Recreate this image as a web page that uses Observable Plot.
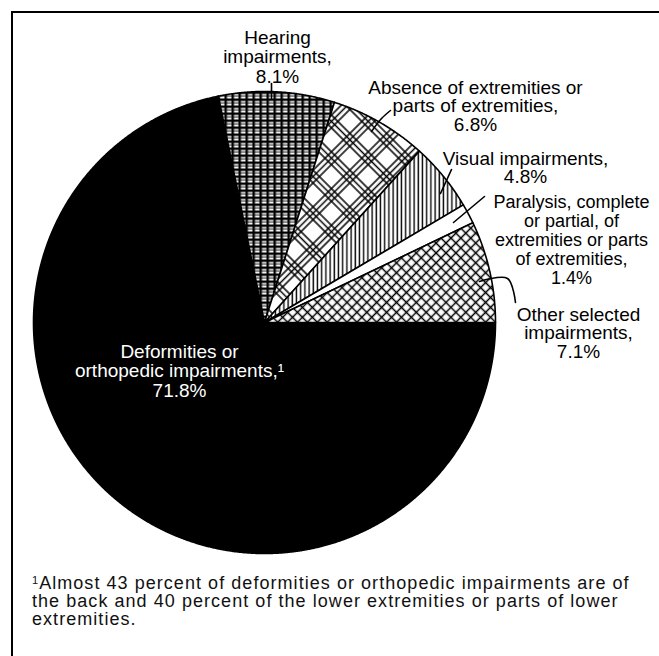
<!DOCTYPE html>
<html><head><meta charset="utf-8">
<script src="https://cdn.jsdelivr.net/npm/d3@7"></script>
<script src="https://cdn.jsdelivr.net/npm/@observablehq/plot@0.6"></script>
<style>
body{margin:0;background:#fff;font-family:"Liberation Sans",Arial,Helvetica,sans-serif;}
#wrap{position:relative;width:659px;height:656px;overflow:hidden;background:#fff;}
#frame{position:absolute;left:11px;top:11px;width:700px;height:700px;border-left:2px solid #000;border-top:2px solid #000;}
#chart{position:absolute;left:0;top:0;}
#note{position:absolute;left:32px;top:574px;width:627px;font-size:18px;line-height:18px;letter-spacing:1.05px;color:#111;white-space:nowrap;}
#note sup{font-size:11px;vertical-align:top;position:relative;top:-3px;letter-spacing:0;margin-right:1px;}
</style></head><body>
<div id="wrap"><div id="frame"></div><div id="chart"></div><div id="note"></div></div>
<script>
// ---- data ----
const categories = [
  "Deformities or orthopedic impairments",
  "Hearing impairments",
  "Absence of extremities or parts of extremities",
  "Visual impairments",
  "Paralysis, complete or partial, of extremities or parts of extremities",
  "Other selected impairments"
];
const percents = [71.8, 8.1, 6.8, 4.8, 1.4, 7.1];
const labels = [
  "Deformities or\northopedic impairments,¹\n71.8%",
  "Hearing\nimpairments,\n8.1%",
  "Absence of extremities or\nparts of extremities,\n6.8%",
  "Visual impairments,\n4.8%",
  "Paralysis, complete\nor partial, of\nextremities or parts\nof extremities,\n1.4%",
  "Other selected\nimpairments,\n7.1%"
];
const footnoteLines = [
  "Almost 43 percent of deformities or orthopedic impairments are of",
  "the back and 40 percent of the lower extremities or parts of lower",
  "extremities."
];

// ---- layout / style ----
const W = 659, H = 656, CX = 264, CY = 322, R = 231;
const fills = ["#000", "url(#pHear)", "url(#pAbs)", "url(#pVis)", "#fff", "url(#pOth)"];
const P = (px, py) => [px - CX, CY - py];
const labelLayout = [ // [centerX, capTop, fontSize, lineHeight(em), color]
  [179, 343.5, 19, 1.03, "#fff"],
  [277, 29.5, 19, 1.03, "#000"],
  [475, 79.5, 19, 1.0, "#000"],
  [525, 150.5, 19, 1.0, "#000"],
  [571, 194.5, 18, 1.05, "#000"],
  [578, 306.5, 19, 1.0, "#000"]
];
const leaders = [
  [[271, 83], [271, 98]],
  [[390, 110], [381, 118], [371, 131]],
  [[451, 169], [446, 180], [440, 193]],
  [[484, 196], [453, 222]],
  [[479, 281], [507, 278], [515, 302]]
];

const arcs = d3.pie().sort(null).startAngle(Math.PI / 2).endAngle(Math.PI / 2 + 2 * Math.PI)(percents);
const slices = arcs.map((a, i) => {
  const pts = [[0, 0]];
  const n = Math.max(2, Math.ceil((a.endAngle - a.startAngle) / 0.004));
  for (let k = 0; k <= n; k++) {
    const t = a.startAngle + (a.endAngle - a.startAngle) * k / n;
    pts.push([R * Math.sin(t), R * Math.cos(t)]);
  }
  pts.push([0, 0]);
  return {i, name: categories[i], pts};
});

const marks = [];
slices.forEach(s => marks.push(Plot.line(s.pts, {
  x: d => d[0], y: d => d[1], fill: fills[s.i], stroke: "#000", strokeWidth: 1.6, strokeLinejoin: "round"
})));
leaders.forEach(l => marks.push(Plot.line(l.map(p => P(p[0], p[1])), {
  x: d => d[0], y: d => d[1], stroke: "#000", strokeWidth: 1.6, curve: "catmull-rom"
})));
labels.forEach((t, i) => {
  const [lx, ly, fs, lh, col] = labelLayout[i];
  const [x, y] = P(lx, ly);
  marks.push(Plot.text([t], {
    x: () => x, y: () => y, text: d => d, fill: col, fontSize: fs,
    fontFamily: "'Liberation Sans', Arial, Helvetica, sans-serif",
    textAnchor: "middle", lineAnchor: "top", lineHeight: lh
  }));
});

const svg = Plot.plot({
  width: W, height: H, margin: 0,
  style: {background: "transparent", overflow: "visible"},
  x: {domain: [-CX, W - CX], axis: null},
  y: {domain: [CY - H, CY], axis: null},
  marks
});

const defs = `<defs>
<pattern id="pHear" patternUnits="userSpaceOnUse" width="7" height="7">
 <rect width="7" height="7" fill="#fff"/>
 <path d="M1.2,0V7M0,1.2H7" stroke="#000" stroke-width="2.4"/>
 <path d="M0,4.6H7" stroke="#000" stroke-width="0.9"/>
</pattern>
<pattern id="pAbs" patternUnits="userSpaceOnUse" width="26" height="26" patternTransform="rotate(45)">
 <rect width="26" height="26" fill="#fff"/>
 <path d="M3,0V26M7.5,0V26M12,0V26M0,3H26M0,7.5H26M0,12H26" stroke="#000" stroke-width="1.5"/>
</pattern>
<pattern id="pVis" patternUnits="userSpaceOnUse" width="4.2" height="10">
 <rect width="4.2" height="10" fill="#fff"/>
 <path d="M2,0V10" stroke="#000" stroke-width="1.4"/>
</pattern>
<pattern id="pOth" patternUnits="userSpaceOnUse" width="7" height="7" patternTransform="rotate(45)">
 <rect width="7" height="7" fill="#fff"/>
 <path d="M3.5,0V7M0,3.5H7" stroke="#000" stroke-width="1.5"/>
</pattern>
</defs>`;
svg.insertAdjacentHTML("afterbegin", defs);
document.getElementById("chart").appendChild(svg);

document.getElementById("note").innerHTML =
  "<sup>1</sup>" + footnoteLines.join("<br>");
</script>
</body></html>
